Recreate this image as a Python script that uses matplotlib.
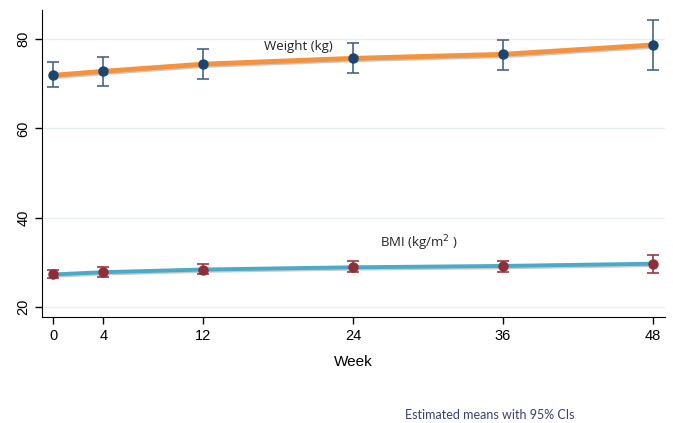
import matplotlib
matplotlib.use("Agg")
import matplotlib.pyplot as plt
import matplotlib.patheffects as pe

weeks = [0, 4, 12, 24, 36, 48]
weight_mean = [71.9, 72.8, 74.4, 75.7, 76.6, 78.7]
weight_lo = [69.3, 69.6, 71.1, 72.4, 73.1, 73.1]
weight_hi = [74.8, 76.0, 77.7, 79.2, 79.9, 84.3]
bmi_mean = [27.3, 27.8, 28.4, 28.9, 29.2, 29.7]
bmi_lo = [26.4, 26.7, 27.3, 27.8, 27.8, 27.6]
bmi_hi = [28.2, 28.9, 29.6, 30.2, 30.4, 31.7]
yticks = [20, 40, 60, 80]

fig = plt.figure(figsize=(6.73, 4.23), dpi=100)
ax = fig.add_axes([0.0624, 0.251, 0.926, 0.725])

for y in yticks:
    ax.axhline(y, color="#e6efef", lw=1.0, zorder=0)

shadow = [pe.SimpleLineShadow(offset=(0.3, -1.0), shadow_color="#666666", alpha=0.35), pe.Normal()]

ax.plot(weeks, weight_mean, color="#f5923e", lw=3.5, zorder=2, path_effects=shadow, solid_capstyle="round")
ax.plot(weeks, bmi_mean, color="#4aaac8", lw=2.8, zorder=2, path_effects=shadow, solid_capstyle="round")

w_err = [[m - l for m, l in zip(weight_mean, weight_lo)], [h - m for m, h in zip(weight_mean, weight_hi)]]
b_err = [[m - l for m, l in zip(bmi_mean, bmi_lo)], [h - m for m, h in zip(bmi_mean, bmi_hi)]]
ax.errorbar(weeks, weight_mean, yerr=w_err, fmt="o", color="#1b4670", ecolor="#45668a",
            elinewidth=1.2, capsize=4, capthick=1.2, markersize=6.5, zorder=3)
ax.errorbar(weeks, bmi_mean, yerr=b_err, fmt="o", color="#8e2e38", ecolor="#9a3a44",
            elinewidth=1.2, capsize=4, capthick=1.2, markersize=6.5, zorder=3)

ax.text(19.6, 78.4, "Weight (kg)", fontsize=9.5, family="Open Sans", color="#222222", ha="center", va="center")
ax.text(29.3, 34.3, "BMI (kg/m$^{2}$ )", fontsize=9.5, family="Open Sans", color="#222222", ha="center", va="center")

ax.set_xlim(-0.9, 49.0)
ax.set_ylim(17.8, 86.5)
ax.set_xticks(weeks)
ax.set_yticks(yticks)
ax.tick_params(axis="both", direction="out", length=5, width=1, labelsize=10.5)
for lab in ax.get_yticklabels():
    lab.set_rotation(90)
    lab.set_va("center")
for lab in ax.get_xticklabels() + ax.get_yticklabels():
    lab.set_family("Liberation Sans")
ax.set_xlabel("Week", fontsize=11, family="Liberation Sans", labelpad=9)
ax.spines["top"].set_visible(False)
ax.spines["right"].set_visible(False)

fig.text(0.727, 0.004, "Estimated means with 95% CIs", fontsize=9, family="Lato",
         color="#3a3f6e", ha="center", va="bottom")

fig.savefig("out.png", dpi=100, facecolor="white")
